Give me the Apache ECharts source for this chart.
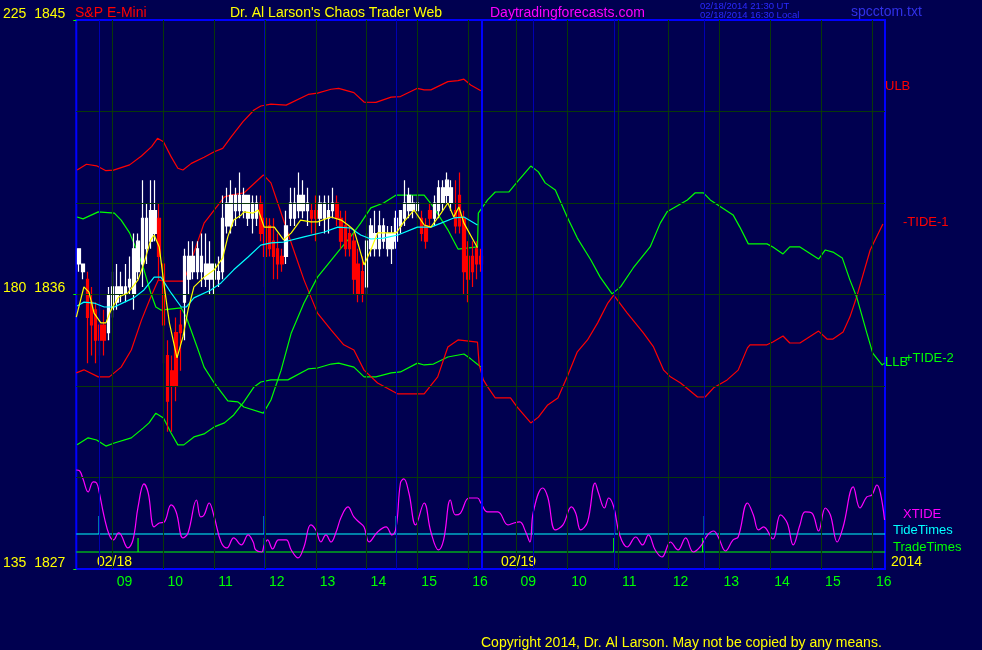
<!DOCTYPE html>
<html><head><meta charset="utf-8">
<script src="https://cdn.jsdelivr.net/npm/echarts@6/dist/echarts.min.js"></script>
<style>html,body{margin:0;padding:0;background:#000050;}#c{width:982px;height:650px;}</style>
</head><body><div id="c"></div>
<script>
// Time axis: minutes after 08:00 on 02/18; the 02/19 session continues with an offset of 477 minutes.
const axisMin = 17, axisMax = 972.5;
const dayDivider = 496;
const hourTicks = [60,120,180,240,300,360,420,480,537,597,657,717,777,837,897,957];
const hourLabels = ['09','10','11','12','13','14','15','16','09','10','11','12','13','14','15','16'];
const priceTicks = [1827,1836,1845];
const altScaleTicks = [135,180,225];
const priceGrid = [1830,1833,1836,1839,1842];
const tideTimes = [44,239,395,557,653,759];
const tradeTimes = [90,239,395,652,757];
const tideBase = 140.74, tideTop = 143.69;
const tradeBase = 137.79, tradeTop = 140.09;

// 5-minute bars of 02/18, first bar at 08:20
const barStart = 20, barMinutes = 5;
const candleOpen  = [1837.0,1836.75,1836.5,1835.75,1835.5,1835.0,1835.0,1834.75,1835.5,1835.75,1836.0,1836.0,1836.25,1836.0,1836.75,1837.0,1837.5,1837.75,1838.0,1838.5,1837.0,1834.0,1833.5,1834.75,1835.0,1835.75,1836.5,1836.75,1836.75,1836.75,1836.5,1836.5,1836.5,1836.5,1836.75,1838.25,1838.25,1838.75,1838.75,1838.75,1838.5,1838.5,1838.5,1839.0,1838.5,1838.25,1837.75,1837.5,1837.25,1837.25,1838.5,1838.5,1838.75,1838.75,1838.75,1838.75,1838.75,1838.5,1838.5,1838.5,1838.75,1839.0,1838.5,1838.25,1838.0,1837.75,1837.0,1836.75,1836.25,1837.5,1837.5,1837.5,1837.75,1837.5,1837.5,1837.75,1838.25,1838.5,1838.75,1838.75,1838.75,1838.5,1838.25,1838.75,1838.5,1838.75,1839.0,1839.25,1839.0,1838.75,1839.25,1838.5,1837.25,1837.25,1837.5,1837.25];
const candleHigh  = [1837.5,1837.0,1836.75,1836.25,1835.75,1835.75,1835.5,1836.25,1836.75,1837.0,1836.75,1837.0,1837.25,1838.0,1838.0,1839.75,1839.0,1839.75,1839.75,1839.0,1837.25,1834.5,1834.0,1835.25,1835.5,1837.5,1837.75,1837.75,1837.75,1838.0,1838.0,1837.75,1837.0,1837.25,1839.25,1839.5,1839.75,1839.5,1840.0,1839.5,1839.25,1839.25,1839.25,1839.25,1839.0,1838.5,1838.5,1838.0,1837.5,1838.75,1839.5,1839.5,1840.0,1839.75,1839.5,1839.0,1839.25,1839.25,1839.25,1839.25,1839.5,1839.25,1838.75,1838.75,1838.25,1838.0,1837.5,1837.25,1838.0,1838.5,1838.75,1838.75,1838.5,1838.25,1838.25,1838.75,1838.75,1839.75,1839.5,1839.25,1839.25,1838.75,1838.5,1839.0,1839.25,1839.75,1839.75,1840.0,1839.75,1839.75,1840.0,1838.75,1837.75,1837.75,1837.75,1837.5];
const candleLow   = [1836.75,1836.5,1833.75,1834.0,1833.75,1834.0,1834.0,1834.5,1835.25,1835.5,1835.75,1835.75,1836.0,1835.5,1836.5,1836.25,1837.0,1837.5,1837.75,1836.5,1833.75,1831.5,1831.5,1832.5,1833.5,1834.5,1836.0,1836.5,1836.5,1836.25,1836.25,1836.0,1836.0,1836.25,1836.5,1838.0,1838.0,1838.25,1838.5,1838.5,1838.25,1838.0,1838.25,1837.75,1836.25,1837.25,1836.5,1836.5,1836.75,1837.0,1838.25,1838.25,1838.5,1838.5,1838.25,1838.0,1837.75,1838.25,1838.0,1838.0,1838.5,1838.25,1837.5,1837.25,1837.25,1836.0,1835.75,1835.75,1836.0,1837.25,1837.25,1837.25,1837.5,1837.25,1837.0,1837.5,1838.0,1838.25,1838.5,1838.5,1838.5,1837.75,1837.5,1838.25,1838.25,1838.5,1838.75,1839.0,1838.75,1838.0,1838.0,1836.0,1835.75,1836.25,1836.5,1836.75];
const candleClose = [1837.5,1837.0,1835.25,1835.0,1834.5,1834.5,1834.5,1836.0,1836.25,1836.25,1836.25,1836.25,1836.5,1837.5,1837.75,1838.5,1838.5,1838.75,1838.75,1837.25,1835.0,1832.5,1833.0,1833.0,1834.75,1837.25,1837.25,1837.25,1837.5,1837.25,1837.0,1837.0,1837.0,1836.75,1838.5,1839.0,1839.25,1839.25,1839.25,1839.25,1839.25,1839.0,1839.0,1838.0,1837.25,1837.5,1837.25,1837.0,1837.0,1838.25,1839.0,1839.0,1839.25,1839.25,1839.0,1838.5,1838.5,1839.0,1839.0,1838.75,1839.0,1838.5,1837.75,1837.5,1837.5,1836.5,1836.0,1836.0,1837.75,1838.25,1838.0,1838.25,1838.25,1838.0,1838.0,1838.5,1838.75,1839.0,1839.25,1839.0,1839.0,1838.0,1837.75,1838.5,1839.0,1839.5,1839.5,1839.75,1839.5,1838.25,1838.25,1836.75,1836.5,1836.75,1837.0,1837.0];

const ulb = [[18,1840.08],[29,1840.27],[41,1840.22],[52,1840.06],[61,1840.08],[80,1840.25],[94,1840.54],[106,1840.85],[113,1841.12],[120,1841.01],[129,1840.52],[137,1840.14],[143,1840.08],[153,1840.30],[168,1840.5],[180,1840.68],[190,1840.79],[200,1841.17],[214,1841.67],[227,1842.05],[235,1842.18],[247,1842.24],[265,1842.21],[291,1842.56],[302,1842.6],[318,1842.73],[327,1842.76],[345,1842.62],[357,1842.31],[371,1842.3],[389,1842.47],[400,1842.49],[420,1842.76],[428,1842.71],[436,1842.71],[456,1842.98],[468,1843.01],[475,1843.06],[483,1842.87],[495,1842.68]];
const llb = [[18,1831.07],[31,1831.30],[41,1831.23],[52,1831.03],[62,1831.13],[82,1831.30],[96,1831.62],[103,1831.79],[111,1832.11],[120,1831.95],[129,1831.46],[137,1831.07],[144,1831.07],[156,1831.33],[168,1831.43],[180,1831.66],[192,1831.79],[203,1832.05],[215,1832.48],[227,1832.97],[235,1833.13],[247,1833.20],[267,1833.20],[291,1833.56],[302,1833.59],[318,1833.72],[327,1833.75],[345,1833.62],[357,1833.30],[371,1833.30],[389,1833.43],[400,1833.46],[420,1833.75],[428,1833.69],[439,1833.72],[456,1833.95],[475,1834.05],[483,1833.89],[495,1833.62]];
const tide2 = [[18,1838.54],[25,1838.48],[43,1838.71],[62,1838.67],[70,1838.44],[80,1838.02],[90,1837.36],[97,1836.81],[105,1836.05],[111,1835.59],[117,1835.49],[141,1835.56],[147,1835.26],[161,1834.18],[168,1833.62],[180,1833.10],[196,1832.51],[208,1832.48],[215,1832.31],[238,1832.11],[247,1832.54],[259,1833.52],[271,1834.74],[286,1835.72],[302,1836.57],[330,1837.53],[341,1837.89],[353,1838.34],[365,1838.84],[380,1839.00],[395,1839.26],[428,1839.26],[439,1838.87],[456,1838.12],[468,1837.49],[491,1837.56],[492,1838.67],[503,1839.10],[512,1839.36],[528,1839.36],[538,1839.69],[554,1840.21],[563,1840.02],[571,1839.66],[583,1839.43],[597,1838.54],[609,1837.85],[625,1837.13],[636,1836.57],[650,1836.02],[660,1836.25],[675,1836.87],[695,1837.56],[707,1838.34],[715,1838.71],[739,1839.10],[748,1839.33],[758,1839.33],[766,1839.10],[793,1838.61],[801,1838.21],[811,1837.66],[833,1837.66],[840,1837.56],[852,1837.33],[860,1837.56],[872,1837.56],[894,1837.16],[902,1837.46],[911,1837.39],[922,1837.20],[931,1836.48],[939,1835.92],[951,1834.74],[958,1834.08],[969,1833.69],[972,1833.75]];
const tide1 = [[17,1833.43],[26,1833.53],[43,1833.30],[56,1833.30],[70,1833.62],[82,1834.18],[94,1835.16],[105,1835.92],[114,1836.48],[120,1836.44],[144,1836.44],[149,1836.81],[168,1838.34],[192,1839.20],[200,1839.26],[215,1839.33],[238,1839.92],[247,1839.66],[259,1838.67],[271,1837.69],[286,1836.48],[302,1835.39],[318,1834.84],[333,1834.35],[345,1834.18],[357,1833.52],[373,1833.10],[397,1832.74],[428,1832.74],[444,1833.30],[456,1834.28],[468,1834.51],[491,1834.44],[493,1833.70],[498,1833.20],[503,1832.97],[512,1832.61],[530,1832.61],[538,1832.31],[554,1831.79],[563,1831.98],[574,1832.38],[586,1832.61],[597,1833.30],[609,1834.12],[621,1834.51],[633,1835.07],[645,1835.72],[652,1835.98],[668,1835.39],[687,1834.74],[699,1834.28],[711,1833.52],[719,1833.30],[731,1833.10],[751,1832.64],[760,1832.64],[770,1832.94],[786,1833.20],[799,1833.52],[810,1834.25],[813,1834.35],[833,1834.35],[840,1834.44],[852,1834.64],[860,1834.41],[872,1834.41],[894,1834.80],[904,1834.54],[911,1834.54],[923,1834.77],[931,1835.26],[939,1835.92],[955,1837.46],[970,1838.31]];
const slowAvg = [[18,1835.62],[26,1835.75],[38,1835.72],[50,1835.59],[62,1835.59],[74,1835.75],[85,1835.89],[97,1836.15],[109,1836.57],[117,1836.57],[129,1836.05],[141,1835.59],[147,1835.59],[156,1835.89],[176,1836.15],[188,1836.38],[203,1836.81],[220,1837.23],[235,1837.62],[247,1837.69],[262,1837.72],[286,1837.89],[310,1838.05],[326,1838.21],[341,1838.18],[353,1837.95],[365,1837.82],[380,1837.85],[397,1837.95],[420,1838.21],[436,1838.21],[448,1838.34],[463,1838.51],[475,1838.54],[491,1838.28]];
const fastAvg = [[17,1835.26],[26,1836.25],[32,1836.08],[38,1835.39],[46,1835.07],[52,1835.07],[58,1835.49],[67,1835.92],[78,1836.05],[90,1836.48],[97,1837.03],[105,1837.79],[109,1837.95],[115,1837.56],[121,1836.25],[127,1835.07],[136,1833.92],[143,1834.61],[149,1835.49],[156,1836.25],[168,1836.57],[180,1836.81],[190,1837.20],[196,1837.89],[203,1838.44],[212,1838.61],[215,1838.71],[226,1838.67],[232,1838.77],[239,1838.21],[251,1838.21],[262,1837.79],[271,1838.02],[282,1838.44],[294,1838.38],[302,1838.38],[318,1838.54],[330,1838.44],[338,1838.28],[345,1838.12],[351,1837.56],[357,1836.97],[365,1837.46],[373,1838.02],[383,1838.02],[395,1838.02],[404,1838.38],[416,1838.77],[428,1838.28],[436,1838.21],[448,1838.67],[456,1839.00],[463,1838.54],[469,1838.87],[475,1838.34],[491,1837.53]];
const xtide = [[17,151.23],[21,151.07],[25,149.76],[31,147.63],[37,149.27],[41,149.10],[44,147.63],[50,143.53],[56,140.58],[61,139.76],[67,140.91],[70,140.58],[78,138.45],[84,139.76],[90,145.17],[97,148.94],[102,147.46],[109,141.89],[115,142.54],[121,142.71],[129,145.50],[135,144.35],[143,140.09],[149,140.91],[159,146.31],[164,143.53],[168,143.86],[174,145.82],[180,143.53],[188,139.43],[195,138.45],[203,140.09],[212,138.94],[220,140.58],[226,139.43],[229,138.12],[236,137.79],[239,138.94],[243,139.76],[249,138.28],[256,139.76],[265,139.76],[271,138.12],[279,136.81],[286,138.61],[294,142.22],[300,141.40],[306,139.43],[312,140.58],[318,139.43],[324,141.07],[330,143.53],[338,145.17],[345,143.53],[351,142.71],[357,141.89],[363,139.43],[373,141.07],[383,141.89],[390,140.58],[395,141.89],[400,149.10],[404,149.76],[410,147.46],[418,142.22],[428,145.82],[436,141.07],[445,138.12],[451,139.76],[459,146.31],[465,143.86],[471,144.18],[481,146.64],[491,146.64],[495,145.82],[503,144.35],[515,144.35],[527,142.22],[534,142.54],[541,142.71],[548,141.07],[553,139.43],[557,144.35],[568,148.28],[574,146.81],[583,141.40],[592,142.22],[602,145.17],[607,144.18],[613,141.40],[621,142.71],[630,149.10],[634,147.46],[641,145.00],[646,146.64],[652,145.17],[659,140.58],[668,138.61],[678,140.25],[686,138.94],[693,140.58],[701,138.12],[709,136.97],[719,139.43],[728,138.12],[737,140.09],[746,137.79],[754,138.61],[763,140.58],[770,141.23],[776,140.09],[784,137.95],[793,139.76],[799,140.25],[810,145.82],[817,143.86],[823,141.40],[829,141.89],[840,139.92],[849,143.86],[857,142.54],[864,138.94],[872,142.22],[878,144.35],[886,144.18],[894,141.23],[902,145.00],[908,143.86],[916,139.43],[923,141.89],[935,148.45],[943,145.00],[951,146.81],[957,147.13],[963,148.77],[967,147.46],[972,143.04]];

const FONT = 'Liberation Sans, Arial, sans-serif';
const candles = candleOpen.map((o,i)=>[barStart+barMinutes*i, o, candleClose[i], candleLow[i], candleHigh[i]]);
function spikeLine(times, base, top){
  const pts=[[axisMin,base]];
  times.forEach(t=>{pts.push([t,base],[t,top],[t,base]);});
  pts.push([axisMax,base]);
  return pts;
}
function line(name,data,color,extra){
  return Object.assign({name,type:'line',data,symbol:'none',silent:true,z:3,
    lineStyle:{color,width:1.2},itemStyle:{color}},extra||{});
}
function txt(text,x,y,color,size){
  return {type:'text',x,y,silent:true,style:{text,fill:color,font:(size||13)+'px '+FONT,verticalAlign:'middle',align:'left'}};
}
const vline = (t,color,width)=>({xAxis:t,lineStyle:{color,width,type:'solid'}});
const hline = (p,color)=>({yAxis:p,lineStyle:{color,width:1,type:'solid'}});

const chart = echarts.init(document.getElementById('c'),null,{renderer:'canvas'});
chart.setOption({
  backgroundColor:'#000050',
  animation:false,
  grid:{left:75,top:20,width:810,height:549,show:true,borderColor:'#0000ff',borderWidth:2,backgroundColor:'transparent'},
  xAxis:{type:'value',min:axisMin,max:axisMax,
    axisLine:{show:false},axisTick:{show:false},splitLine:{show:false},
    axisLabel:{customValues:hourTicks,color:'#00ff00',fontFamily:FONT,fontSize:14,align:'left',padding:[0,0,0,4],margin:6,
      formatter:v=>hourLabels[hourTicks.indexOf(v)]}},
  yAxis:[{type:'value',min:1827,max:1845,interval:3,
    axisLine:{show:false},
    axisTick:{show:true,customValues:priceTicks,length:3,lineStyle:{color:'#00ff00'}},
    splitLine:{show:false},
    axisLabel:{customValues:priceTicks,color:'#ffff00',fontFamily:FONT,fontSize:14,margin:11,verticalAlign:'bottom',lineHeight:12,
      formatter:v=>{const i=priceTicks.indexOf(v);return i<0?'':altScaleTicks[i]+'  '+v;}}},
    {type:'value',min:135,max:225,show:false}],
  graphic:[
    txt('S&P E-Mini',75,13,'#ff0000',14),
    txt("Dr. Al Larson's Chaos Trader Web",230,13,'#ffff00',14),
    txt('Daytradingforecasts.com',490,13,'#ff00ff',14),
    txt('02/18/2014 21:30 UT',700,6,'#2a2aff',9.5),
    txt('02/18/2014 16:30 Local',700,15,'#2a2aff',9.5),
    txt('spcctom.txt',851,12,'#3030e8',14),
    txt('ULB',885,86,'#ff0000'),
    txt('-TIDE-1',903,222,'#ff0000'),
    txt('LLB',885,362,'#00ff00'),
    txt('+TIDE-2',905,358,'#00ff00'),
    txt('XTIDE',903,514,'#ff00ff'),
    txt('TideTimes',893,530,'#00ffff'),
    txt('TradeTimes',893,547,'#00ff00'),
    txt('2014',891,562,'#ffff00',14),
    txt('02/18',97,562,'#ffff00',14),
    txt('02/19',501,562,'#ffff00',14),
    txt('Copyright 2014, Dr. Al Larson. May not be copied by any means.',481,643,'#ffff00',14)
  ],
  series:[
    {name:'grid',type:'line',data:[],z:1,silent:true,
      markLine:{silent:true,symbol:'none',label:{show:false},animation:false,
        data:[].concat(priceGrid.map(p=>hline(p,'#083808')),
                       hourTicks.map(t=>vline(t,'#083808',1)),
                       tideTimes.map(t=>vline(t,'#0000b4',1)),
                       [vline(dayDivider,'#0000ff',2)])}},
    line('ULB',ulb,'#ff0000'),
    line('LLB',llb,'#00ff00'),
    line('-TIDE-1',tide1,'#ff0000'),
    line('+TIDE-2',tide2,'#00ff00'),
    {name:'S&P E-Mini',type:'candlestick',data:candles,encode:{x:0,y:[1,2,3,4]},barWidth:3,z:4,silent:true,
      itemStyle:{color:'#ffffff',color0:'#ff0000',borderColor:'#ffffff',borderColor0:'#ff0000',borderWidth:1.2}},
    line('slow',slowAvg,'#00ffff',{z:5}),
    line('fast',fastAvg,'#ffff00',{z:5}),
    line('TideTimes',spikeLine(tideTimes,tideBase,tideTop),'#00ffff',{yAxisIndex:1}),
    line('TradeTimes',spikeLine(tradeTimes,tradeBase,tradeTop),'#00ff00',{yAxisIndex:1}),
    line('XTIDE',xtide,'#ff00ff',{yAxisIndex:1,smooth:0.4})
  ]
});
</script></body></html>
